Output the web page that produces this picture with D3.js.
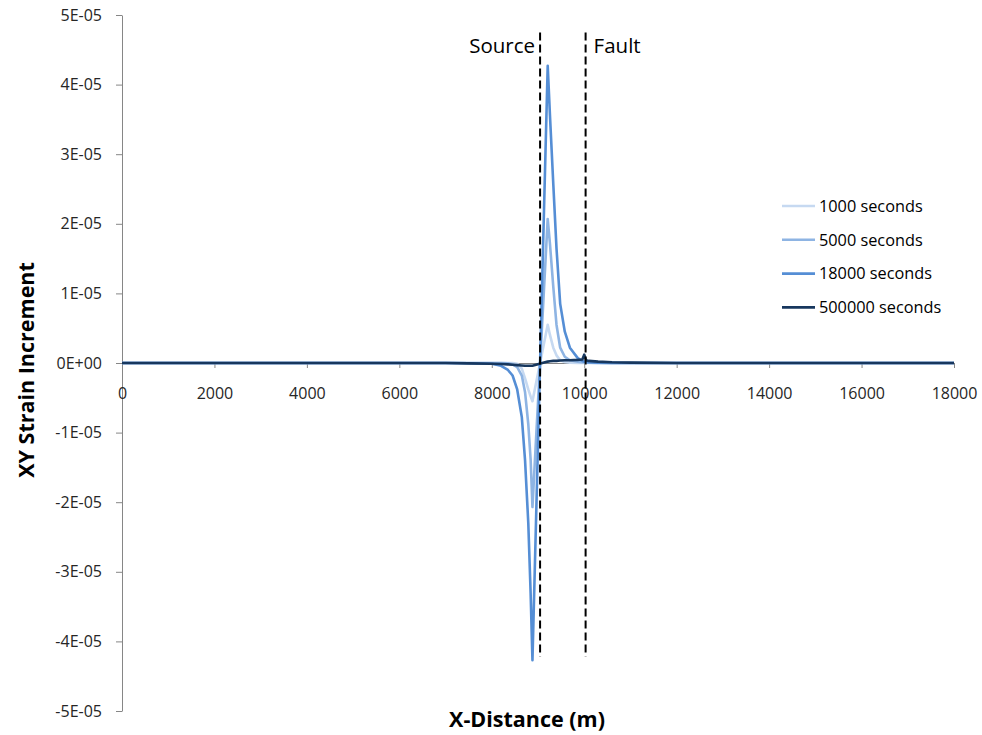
<!DOCTYPE html>
<html>
<head>
<meta charset="utf-8">
<script src="https://cdn.jsdelivr.net/npm/d3@7/dist/d3.min.js"></script>
<style>
  body { margin: 0; background: #fff; }
  text { font-family: "Open Sans", "Noto Sans", sans-serif; }
</style>
</head>
<body>
<script>
// svg size
let width = 982;
let height = 735;

// plot area (pixels)
let margin = { top: 15, right: 28, bottom: 24, left: 122 };

// x positions (m), shared by every series
let distance = [0, 1000, 2000, 3000, 4000, 5000, 6000, 7000, 7500, 8000,
  8200, 8350, 8450, 8550, 8650, 8720, 8790, 8840, 8880, 9210,
  9260, 9330, 9400, 9480, 9580, 9690, 9860, 9960, 10000, 10040,
  10100, 10300, 10600, 11000, 12000, 13000, 14000, 15000, 16000, 17000, 18000];

// strain increments, in units of 1E-05
let s1000 = [0, 0, 0, 0, 0, 0, 0, 0, 0, 0,
  0, 0, 0, -0.01, -0.08, -0.22, -0.38, -0.48, -0.55, 0.55,
  0.4, 0.22, 0.11, 0.04, 0.015, 0.005, 0, 0, 0, 0,
  0, 0, 0, 0, 0, 0, 0, 0, 0, 0, 0];
let s5000 = [0, 0, 0, 0, 0, 0, 0, 0, 0, 0,
  0, -0.005, -0.02, -0.06, -0.18, -0.42, -0.88, -1.38, -2.07, 2.07,
  1.7, 1.1, 0.55, 0.22, 0.09, 0.04, 0.02, 0.01, 0.01, 0.005,
  0.003, 0, 0, 0, 0, 0, 0, 0, 0, 0, 0];
let s18000 = [0, 0, 0, 0, 0, 0, 0, 0, -0.003, -0.01,
  -0.04, -0.1, -0.18, -0.38, -0.78, -1.4, -2.3, -3.3, -4.27, 4.27,
  3.54, 2.58, 1.65, 0.85, 0.45, 0.22, 0.07, 0.03, 0.02, 0.015,
  0.01, 0.005, 0.002, 0, 0, 0, 0, 0, 0, 0, 0];
let s500000 = [0, 0, 0, 0, 0, 0, 0, 0, -0.005, -0.01,
  -0.015, -0.02, -0.025, -0.03, -0.035, -0.04, -0.04, -0.04, -0.04, 0.02,
  0.025, 0.03, 0.03, 0.035, 0.04, 0.04, 0.045, 0.05, 0.12, 0.04,
  0.03, 0.02, 0.01, 0.005, 0, 0, 0, 0, 0, 0, 0];

let seriesNames = ['1000 seconds', '5000 seconds', '18000 seconds', '500000 seconds'];
let seriesValues = [s1000, s5000, s18000, s500000];
let seriesColors = ['#c6d9f1', '#8eb4e3', '#558ed5', '#17375e'];

// tick values
let xTicks = [0, 2000, 4000, 6000, 8000, 10000, 12000, 14000, 16000, 18000];
let yTicks = [-5e-5, -4e-5, -3e-5, -2e-5, -1e-5, 0, 1e-5, 2e-5, 3e-5, 4e-5, 5e-5];

// marker lines (m) and their vertical extent
let markers = [{ name: 'Source', x: 9045 }, { name: 'Fault', x: 10030 }];
let markerTop = 4.75e-5;
let markerBottom = -4.22e-5;

let x = d3.scaleLinear()
  .domain([0, 18000])
  .range([margin.left, width - margin.right]);

let y = d3.scaleLinear()
  .domain([-5e-5, 5e-5])
  .range([height - margin.bottom, margin.top]);

// Excel style scientific labels: 5E-05, 0E+00
let sci = v => {
  if (v === 0) return '0E+00';
  let e = Math.floor(Math.log10(Math.abs(v)) + 1e-9);
  let m = Math.round(v / Math.pow(10, e));
  let sign = e < 0 ? '-' : '+';
  return m + 'E' + sign + String(Math.abs(e)).padStart(2, '0');
};

let svg = d3.select('body')
  .append('svg')
  .attr('width', width)
  .attr('height', height);

// y axis
let yAxis = svg.append('g')
  .attr('transform', `translate(${x(0)},0)`)
  .call(d3.axisLeft(y).tickValues(yTicks).tickFormat(sci).tickSize(6).tickPadding(14).tickSizeOuter(0));

// x axis on the zero line
let xAxis = svg.append('g')
  .attr('transform', `translate(0,${y(0)})`)
  .call(d3.axisBottom(x).tickValues(xTicks).tickFormat(d3.format('d')).tickSize(5).tickPadding(20).tickSizeOuter(0));

[yAxis, xAxis].forEach(g => {
  g.select('.domain').attr('stroke', '#868686');
  g.selectAll('.tick line').attr('stroke', '#868686');
  g.selectAll('.tick text')
    .attr('font-size', '16px')
    .attr('fill', '#262626')
    .style('font-family', '"Open Sans", sans-serif');
});

// series lines
let line = d3.line()
  .x((d, i) => x(distance[i]))
  .y(d => y(d * 1e-5));

svg.selectAll('.series')
  .data(seriesValues)
  .enter()
  .append('path')
  .attr('class', 'series')
  .attr('fill', 'none')
  .attr('stroke', (d, i) => seriesColors[i])
  .attr('stroke-width', 2.6)
  .attr('stroke-linejoin', 'round')
  .attr('d', line);

// source / fault dashed lines
svg.selectAll('.marker')
  .data(markers)
  .enter()
  .append('line')
  .attr('class', 'marker')
  .attr('x1', d => x(d.x))
  .attr('x2', d => x(d.x))
  .attr('y1', y(markerTop))
  .attr('y2', y(markerBottom))
  .attr('stroke', '#000')
  .attr('stroke-width', 2)
  .attr('stroke-dasharray', '8,4');

svg.selectAll('.marker-label')
  .data(markers)
  .enter()
  .append('text')
  .attr('class', 'marker-label')
  .attr('x', d => d.name === 'Source' ? x(d.x) - 5 : x(d.x) + 8)
  .attr('y', 53)
  .attr('text-anchor', d => d.name === 'Source' ? 'end' : 'start')
  .attr('font-size', '20.5px')
  .attr('fill', '#000')
  .text(d => d.name);

// legend
let legend = svg.append('g')
  .attr('transform', 'translate(782,206)');

seriesNames.forEach((name, i) => {
  let row = legend.append('g').attr('transform', `translate(0,${i * 33.8})`);
  row.append('line')
    .attr('x1', 0).attr('x2', 33)
    .attr('stroke', seriesColors[i])
    .attr('stroke-width', 2.6);
  row.append('text')
    .attr('x', 37)
    .attr('dy', '0.35em')
    .attr('font-size', '16.3px')
    .attr('fill', '#000')
    .text(name);
});

// axis titles
svg.append('text')
  .attr('transform', 'translate(34,370) rotate(-90)')
  .attr('text-anchor', 'middle')
  .attr('font-size', '21.5px')
  .attr('font-weight', 'bold')
  .text('XY Strain Increment');

svg.append('text')
  .attr('x', 527)
  .attr('y', 727)
  .attr('text-anchor', 'middle')
  .attr('font-size', '21.5px')
  .attr('font-weight', 'bold')
  .text('X-Distance (m)');
</script>
</body>
</html>
